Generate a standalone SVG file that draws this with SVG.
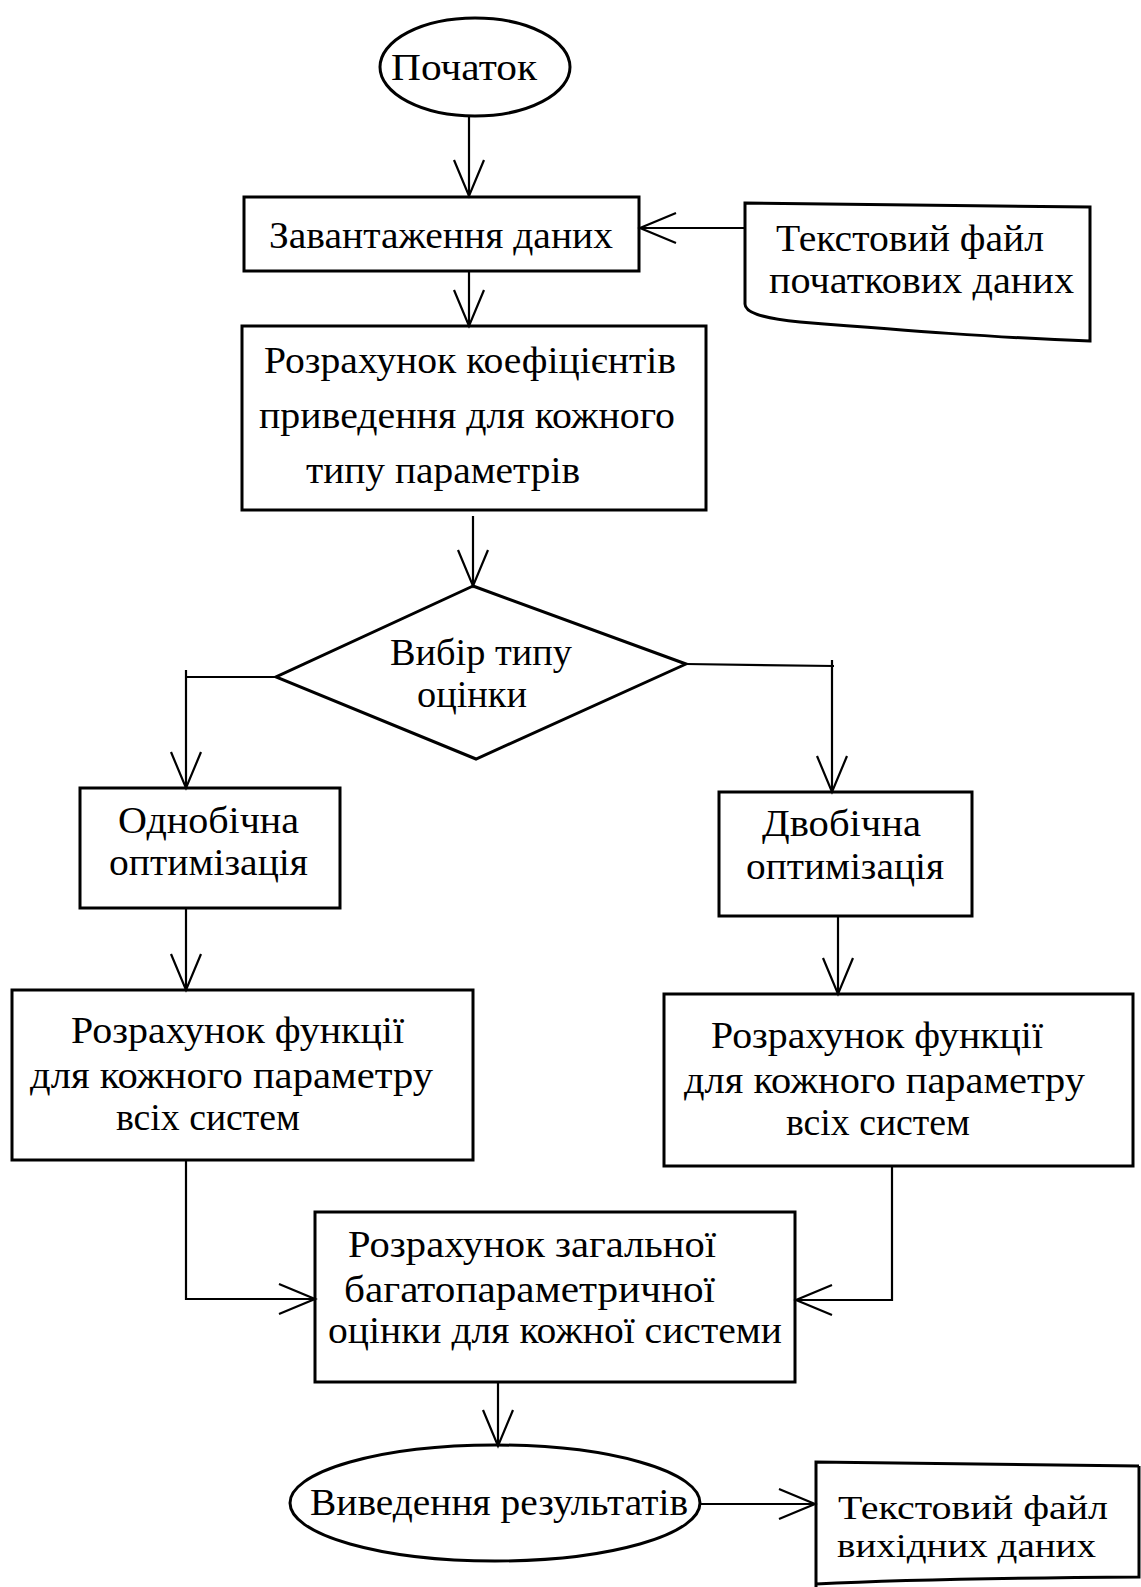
<svg xmlns="http://www.w3.org/2000/svg" width="1141" height="1587" viewBox="0 0 1141 1587">
<style>
.box{fill:none;stroke:#000;stroke-width:3}
.ln{fill:none;stroke:#000;stroke-width:2.2}
text{font-family:"Liberation Serif","Times New Roman",serif;font-size:38px;fill:#000}
.sm{font-size:33px}
</style>
<defs>
<marker id="ar" viewBox="-40 -20 44 40" refX="0" refY="0" markerWidth="44" markerHeight="40" markerUnits="userSpaceOnUse" orient="auto" overflow="visible">
<path d="M-36,-15 L0,0 L-36,15" fill="none" stroke="#000" stroke-width="2.2"/>
</marker>
</defs>
<rect width="1141" height="1587" fill="#fff"/>
<g id="connectors">
<path class="ln" d="M469,116 V196" marker-end="url(#ar)"/>
<path class="ln" d="M745,228 H640" marker-end="url(#ar)"/>
<path class="ln" d="M469,271 V326" marker-end="url(#ar)"/>
<path class="ln" d="M473,516 V586" marker-end="url(#ar)"/>
<path class="ln" d="M276,677 H186"/>
<path class="ln" d="M186,670 V788" marker-end="url(#ar)"/>
<path class="ln" d="M686,664 L834,666"/>
<path class="ln" d="M832,660 V792" marker-end="url(#ar)"/>
<path class="ln" d="M186,908 V990" marker-end="url(#ar)"/>
<path class="ln" d="M838,916 V994" marker-end="url(#ar)"/>
<path class="ln" d="M186,1160 V1299 H315" marker-end="url(#ar)"/>
<path class="ln" d="M892,1166 V1300 H796" marker-end="url(#ar)"/>
<path class="ln" d="M498,1382 V1446" marker-end="url(#ar)"/>
<path class="ln" d="M701,1504 H815" marker-end="url(#ar)"/>
</g>
<g id="start">
<ellipse class="box" cx="475" cy="67" rx="95" ry="49"/>
<text x="391" y="80" textLength="146" lengthAdjust="spacingAndGlyphs">Початок</text>
</g>
<g id="load">
<rect class="box" x="244" y="197" width="395" height="74"/>
<text x="269" y="248" textLength="344" lengthAdjust="spacingAndGlyphs">Завантаження даних</text>
</g>
<g id="infile">
<path class="box" d="M745,203 L1090,207 V341 C1000,338 900,330 800,322 C760,318 745,312 745,304 Z"/>
<text x="776" y="251" textLength="268" lengthAdjust="spacingAndGlyphs">Текстовий файл</text>
<text x="769" y="293" textLength="305" lengthAdjust="spacingAndGlyphs">початкових даних</text>
</g>
<g id="coef">
<rect class="box" x="242" y="326" width="464" height="184"/>
<text x="264" y="373" textLength="412" lengthAdjust="spacingAndGlyphs">Розрахунок коефіцієнтів</text>
<text x="259" y="428" textLength="416" lengthAdjust="spacingAndGlyphs">приведення для кожного</text>
<text x="306" y="483" textLength="274" lengthAdjust="spacingAndGlyphs">типу параметрів</text>
</g>
<g id="choice">
<polygon class="box" points="473,586 686,664 476,759 276,677"/>
<text x="390" y="665" textLength="182" lengthAdjust="spacingAndGlyphs">Вибір типу</text>
<text x="417" y="707" textLength="110" lengthAdjust="spacingAndGlyphs">оцінки</text>
</g>
<g id="one">
<rect class="box" x="80" y="788" width="260" height="120"/>
<text x="118" y="833" textLength="181" lengthAdjust="spacingAndGlyphs">Однобічна</text>
<text x="109" y="875" textLength="199" lengthAdjust="spacingAndGlyphs">оптимізація</text>
</g>
<g id="two">
<rect class="box" x="719" y="792" width="253" height="124"/>
<text x="762" y="836" textLength="159" lengthAdjust="spacingAndGlyphs">Двобічна</text>
<text x="746" y="879" textLength="198" lengthAdjust="spacingAndGlyphs">оптимізація</text>
</g>
<g id="funcL">
<rect class="box" x="12" y="990" width="461" height="170"/>
<text x="71" y="1043" textLength="333" lengthAdjust="spacingAndGlyphs">Розрахунок функції</text>
<text x="30" y="1088" textLength="403" lengthAdjust="spacingAndGlyphs">для кожного параметру</text>
<text x="116" y="1130" textLength="184" lengthAdjust="spacingAndGlyphs">всіх систем</text>
</g>
<g id="funcR">
<rect class="box" x="664" y="994" width="469" height="172"/>
<text x="711" y="1048" textLength="332" lengthAdjust="spacingAndGlyphs">Розрахунок функції</text>
<text x="684" y="1093" textLength="401" lengthAdjust="spacingAndGlyphs">для кожного параметру</text>
<text x="786" y="1135" textLength="184" lengthAdjust="spacingAndGlyphs">всіх систем</text>
</g>
<g id="total">
<rect class="box" x="315" y="1212" width="480" height="170"/>
<text x="348" y="1257" textLength="368" lengthAdjust="spacingAndGlyphs">Розрахунок загальної</text>
<text x="344" y="1302" textLength="371" lengthAdjust="spacingAndGlyphs">багатопараметричної</text>
<text x="328" y="1343" textLength="454" lengthAdjust="spacingAndGlyphs">оцінки для кожної системи</text>
</g>
<g id="output">
<ellipse class="box" cx="495" cy="1503" rx="205" ry="58"/>
<text x="310" y="1515" textLength="378" lengthAdjust="spacingAndGlyphs">Виведення результатів</text>
</g>
<g id="outfile">
<path class="box" d="M1139,1466 L816,1462 V1587 M816,1584 C900,1580 1000,1578 1139,1577 V1466"/>
<text class="sm" x="838" y="1519" textLength="270" lengthAdjust="spacingAndGlyphs">Текстовий файл</text>
<text class="sm" x="837" y="1557" textLength="259" lengthAdjust="spacingAndGlyphs">вихідних даних</text>
</g>
</svg>
